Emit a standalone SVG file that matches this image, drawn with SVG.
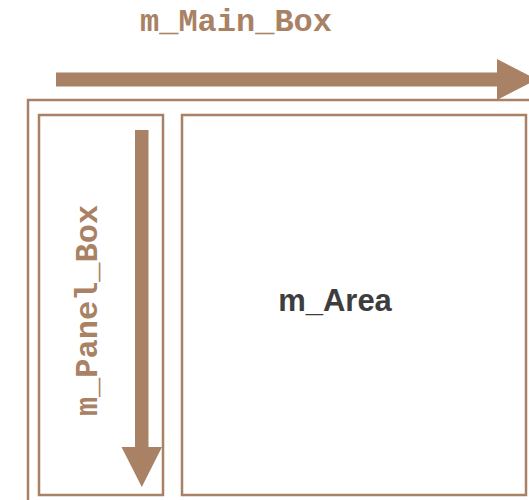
<svg xmlns="http://www.w3.org/2000/svg" width="529" height="500" viewBox="0 0 529 500">
  <style>
    .box { fill: #ffffff; stroke: #a98164; stroke-width: 2.5; }
    .arrow { fill: #a98164; }
    .mono { font-family: "Liberation Mono", "Courier New", monospace; font-weight: bold; font-size: 32px; fill: #a98164; }
    .label { font-family: "Liberation Sans", Arial, sans-serif; font-weight: bold; font-size: 31px; fill: #3d3d3d; }
  </style>
  <rect width="529" height="500" fill="#ffffff"/>

  <g id="main-box">
    <rect class="box" x="28" y="100" width="520" height="420"/>
  </g>

  <g id="panel-box">
    <rect class="box" x="39" y="115" width="124" height="380"/>
  </g>

  <g id="area">
    <rect class="box" x="182" y="115" width="344" height="380"/>
    <text class="label" x="335" y="311" text-anchor="middle">m_Area</text>
  </g>

  <g id="connectors">
    <!-- horizontal layout direction of the main box -->
    <path class="arrow" d="M56,72.5 H497 V59 L537,79.5 L497,100 V86.5 H56 Z"/>
    <!-- vertical layout direction of the panel box -->
    <path class="arrow" d="M135,130 H148.5 V447 H162 L141.8,487 L121.5,447 H135 Z"/>
  </g>

  <g id="labels">
    <text class="mono" x="236" y="31" text-anchor="middle">m_Main_Box</text>
    <text class="mono" transform="translate(97,310.5) rotate(-90)" text-anchor="middle">m_Panel_Box</text>
  </g>
</svg>
